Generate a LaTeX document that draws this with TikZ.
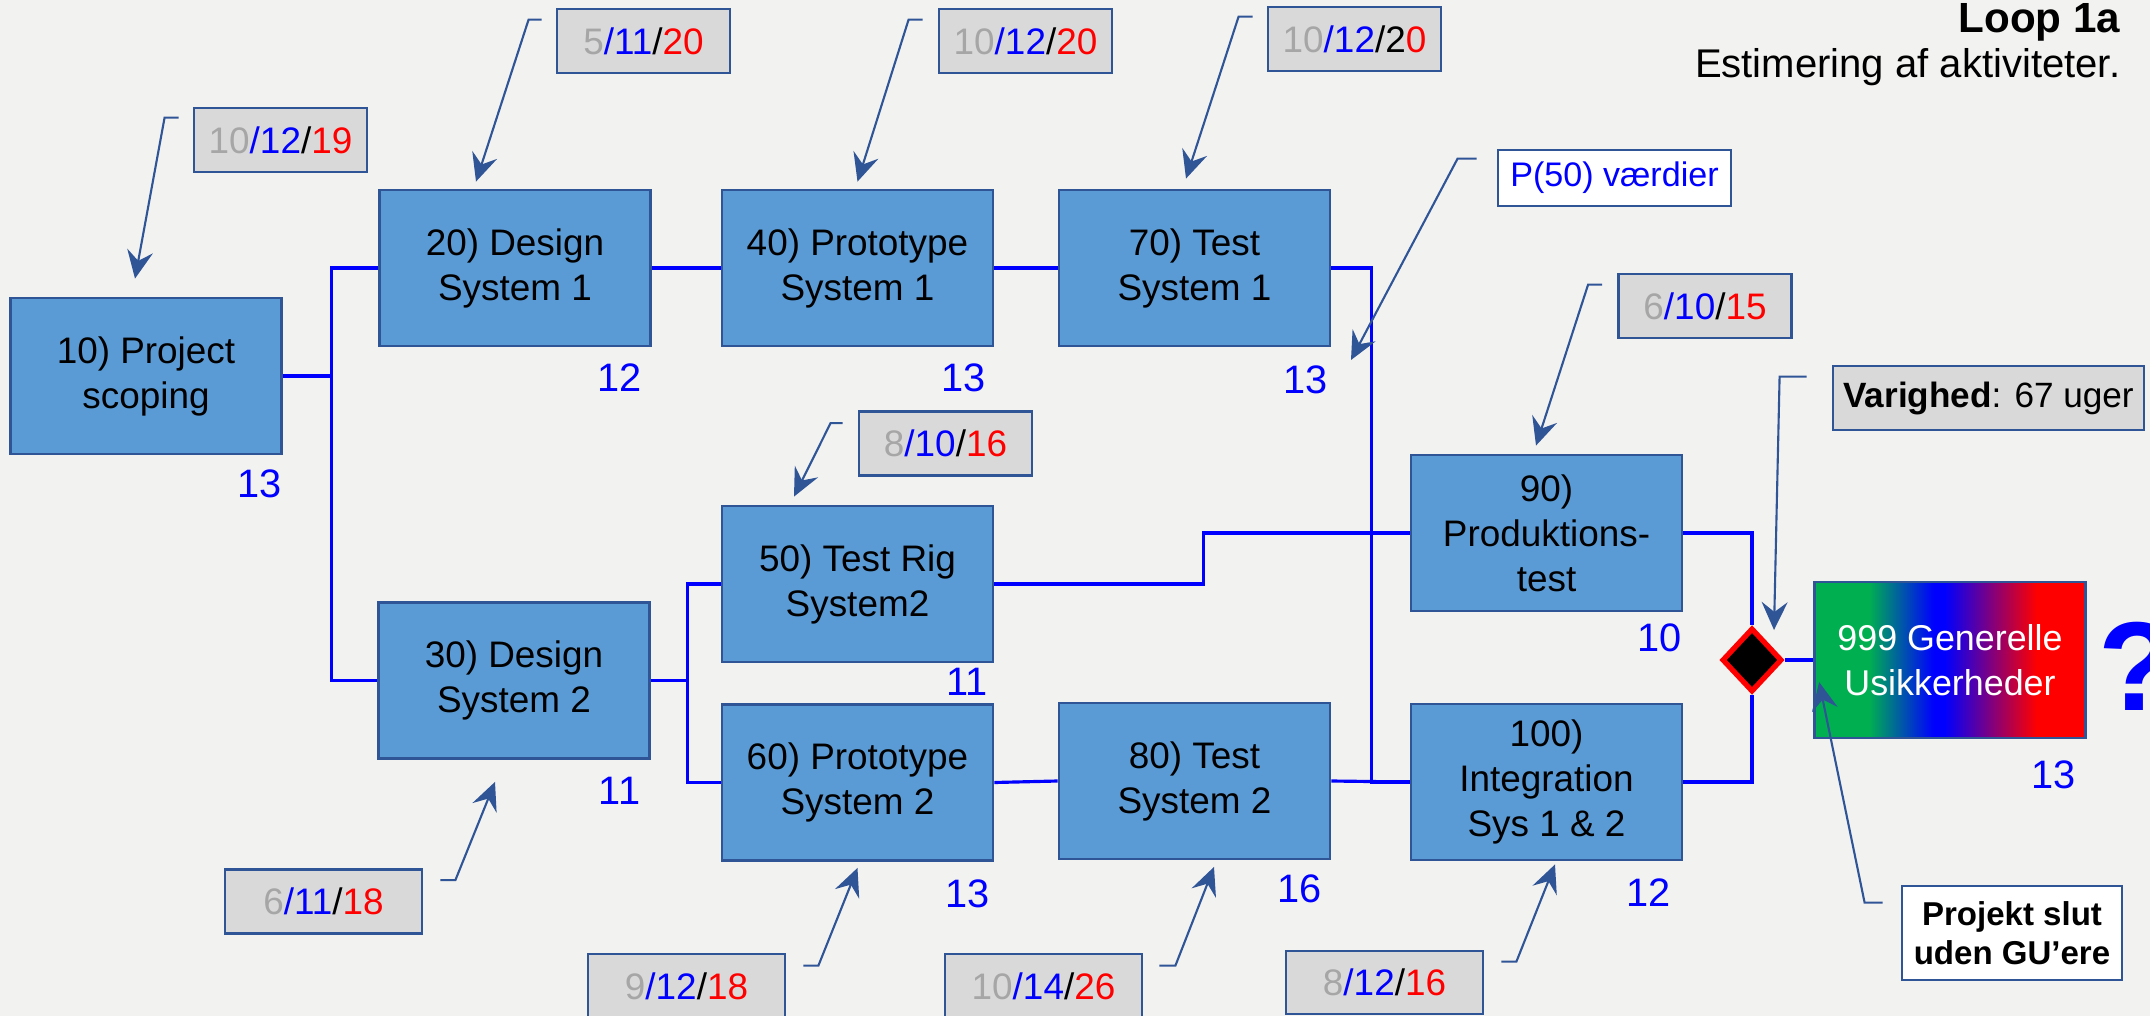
\documentclass[tikz,border=0pt]{standalone}
\usepackage{fontspec}
\setmainfont{Liberation Sans}
\usetikzlibrary{arrows.meta,shapes.geometric}

\definecolor{pagegray}{RGB}{242,242,240}
\definecolor{taskblue}{RGB}{91,155,213}
\definecolor{rimblue}{RGB}{47,85,151}
\definecolor{calloutgray}{RGB}{217,217,217}
\definecolor{optgray}{RGB}{166,166,166}
\definecolor{gugreen}{RGB}{0,176,80}

\pgfdeclarehorizontalshading{guband}{100bp}{color(0bp)=(gugreen); color(35bp)=(gugreen); color(47bp)=(blue); color(49bp)=(blue); color(66bp)=(red); color(100bp)=(red)}

\newcommand{\pert}[3]{\textcolor{optgray}{#1}\textcolor{blue}{/#2}/\textcolor{red}{#3}}

\tikzset{
  task/.style={draw=rimblue, fill=taskblue, line width=0.8pt, minimum width=2.71cm, minimum height=1.56cm, align=center, inner sep=2pt, font=\fontsize{10.5}{12.8}\selectfont},
  estbox/.style={draw=rimblue, fill=calloutgray, line width=0.8pt, minimum width=1.73cm, minimum height=0.64cm, inner sep=1pt, font=\fontsize{10.5}{12}\selectfont},
  notebox/.style={draw=rimblue, fill=white, line width=0.8pt, align=center, inner sep=1pt},
  link/.style={blue, line width=0.9pt},
  leader/.style={rimblue, line width=0.6pt, -{Stealth[length=2.8mm,width=2.6mm,inset=1mm]}},
  weeks/.style={blue, anchor=north east, inner sep=0pt, font=\fontsize{11.3}{13}\selectfont}
}

\begin{document}
\begin{tikzpicture}
  \fill[pagegray] (0,0) rectangle (21.5,-10.16);
  \useasboundingbox (0,0) rectangle (21.5,-10.16);

  \node[anchor=base east, inner sep=0pt, font=\bfseries\fontsize{12}{14}\selectfont] (ttl) at (21.21,-0.32) {Loop 1a};
  \node[anchor=base east, inner sep=0pt, font=\fontsize{11.4}{14}\selectfont] (sub) at (21.21,-0.77) {Estimering af aktiviteter.};

  \node[task] (p10) at (1.46,-3.76) {10) Project\\scoping};
  \node[task] (p20) at (5.15,-2.68) {20) Design\\System 1};
  \node[task] (p40) at (8.575,-2.68) {40) Prototype\\System 1};
  \node[task] (p70) at (11.945,-2.68) {70) Test\\System 1};
  \node[task] (p30) at (5.14,-6.805) {30) Design\\System 2};
  \node[task] (p50) at (8.575,-5.84) {50) Test Rig\\System2};
  \node[task] (p60) at (8.575,-7.825) {60) Prototype\\System 2};
  \node[task] (p80) at (11.945,-7.81) {80) Test\\System 2};
  \node[task] (p90) at (15.465,-5.33) {90)\\Produktions-\\test};
  \node[task] (p100) at (15.465,-7.82) {100)\\Integration\\Sys 1 \& 2};
  \node[diamond, draw=red, fill=black, line width=1.5pt, minimum width=0.6cm, minimum height=0.64cm, inner sep=0pt] (gate) at (17.52,-6.60) {};
  \node[task, shade, shading=guband, text=white, font=\fontsize{10.2}{12.8}\selectfont] (p999) at (19.50,-6.60) {999 Generelle\\Usikkerheder};
  \node[anchor=west, inner sep=0pt, text=blue, font=\bfseries\fontsize{36}{40}\selectfont] (ask) at (20.98,-6.66) {?};

  \node[weeks] (w10) at ([shift={(-0.01,-0.14)}]p10.south east) {13};
  \node[weeks] (w20) at ([shift={(-0.10,-0.16)}]p20.south east) {12};
  \node[weeks] (w40) at ([shift={(-0.08,-0.16)}]p40.south east) {13};
  \node[weeks] (w70) at ([shift={(-0.03,-0.18)}]p70.south east) {13};
  \node[weeks] (w30) at ([shift={(-0.10,-0.17)}]p30.south east) {11};
  \node[weeks] (w50) at ([shift={(-0.06,-0.04)}]p50.south east) {11};
  \node[weeks] (w60) at ([shift={(-0.04,-0.17)}]p60.south east) {13};
  \node[weeks] (w80) at ([shift={(-0.09,-0.135)}]p80.south east) {16};
  \node[weeks] (w90) at ([shift={(-0.01,-0.11)}]p90.south east) {10};
  \node[weeks] (w100) at ([shift={(-0.12,-0.17)}]p100.south east) {12};
  \node[weeks] (w999) at ([shift={(-0.11,-0.21)}]p999.south east) {13};

  \draw[link] (p10.east) -- ++(0.49,0) |- (p20.west);
  \draw[link] (p10.east) -- ++(0.49,0) |- (p30.west);
  \draw[link] (p20.east) -- (p40.west);
  \draw[link] (p40.east) -- (p70.west);
  \draw[link] (p70.east) -- ++(0.40,0) |- (p100.west);
  \draw[link] (p30.east) -- ++(0.37,0) |- (p50.west);
  \draw[link] (p30.east) -- ++(0.37,0) |- (p60.west);
  \draw[link] (p50.east) -- ++(2.09,0) |- (p90.west);
  \draw[link] (p60.east) -- (p80.west);
  \draw[link] (p80.east) -- (p100.west);
  \draw[link] (p90.east) -| (gate.north);
  \draw[link] (p100.east) -| (gate.south);
  \draw[link] (gate.east) -- (p999.west);

  \node[estbox] (c10) at (2.805,-1.40) {\pert{10}{12}{19}};
  \node[estbox] (c20) at (6.435,-0.41) {\pert{5}{11}{20}};
  \node[estbox] (c40) at (10.255,-0.41) {\pert{10}{12}{20}};
  \node[estbox] (c70) at (13.545,-0.39) {\textcolor{optgray}{10}\textcolor{blue}{/12}/2\textcolor{red}{0}};
  \node[estbox] (c50) at (9.455,-4.435) {\pert{8}{10}{16}};
  \node[estbox] (c90) at (17.05,-3.06) {\pert{6}{10}{15}};
  \node[estbox, minimum width=1.97cm] (c30) at (3.235,-9.015) {\pert{6}{11}{18}};
  \node[estbox, minimum width=1.97cm] (c60) at (6.865,-9.86) {\pert{9}{12}{18}};
  \node[estbox, minimum width=1.97cm] (c80) at (10.435,-9.86) {\pert{10}{14}{26}};
  \node[estbox, minimum width=1.97cm, minimum height=0.63cm] (c100) at (13.845,-9.825) {\pert{8}{12}{16}};
  \node[notebox, text=blue, minimum width=2.33cm, minimum height=0.56cm, font=\fontsize{9.7}{12}\selectfont] (pval) at (16.145,-1.78) {P(50) værdier};
  \node[estbox, minimum width=3.11cm, font=\fontsize{10}{12}\selectfont] (span) at (19.885,-3.98) {\textbf{Varighed}: 67 uger};
  \node[notebox, minimum width=2.20cm, minimum height=0.94cm, font=\bfseries\fontsize{9.4}{11}\selectfont] (endnote) at (20.12,-9.33) {Projekt slut\\uden GU’ere};

  \coordinate (pvaltip) at (13.51,-3.60);

  \draw[leader] ([shift={(-0.14,-0.11)}]c10.north west) -- ++(-0.14,0) -- ([shift={(-0.11,0.18)}]p10.north);
  \draw[leader] ([shift={(-0.14,-0.12)}]c20.north west) -- ++(-0.13,0) -- ([shift={(-0.39,0.07)}]p20.north);
  \draw[leader] ([shift={(-0.15,-0.12)}]c40.north west) -- ++(-0.14,0) -- ([shift={(0,0.07)}]p40.north);
  \draw[leader] ([shift={(-0.14,-0.11)}]c70.north west) -- ++(-0.14,0) -- ([shift={(-0.085,0.10)}]p70.north);
  \draw[leader] ([shift={(-0.15,-0.13)}]c50.north west) -- ++(-0.12,0) -- ([shift={(-0.635,0.08)}]p50.north);
  \draw[leader] ([shift={(-0.15,-0.12)}]c90.north west) -- ++(-0.14,0) -- ([shift={(-0.105,0.08)}]p90.north);
  \draw[leader] ([shift={(-0.20,-0.10)}]pval.north west) -- ++(-0.19,0) -- (pvaltip);
  \draw[leader] ([shift={(-0.25,-0.12)}]span.north west) -- ++(-0.27,0) -- ([shift={(0.22,0.30)}]gate.center);
  \draw[leader] ([shift={(0.17,-0.12)}]c30.north east) -- ++(0.15,0) -- ([shift={(-0.19,-0.22)}]p30.south);
  \draw[leader] ([shift={(0.17,-0.13)}]c60.north east) -- ++(0.15,0) -- ([shift={(0,-0.06)}]p60.south);
  \draw[leader] ([shift={(0.16,-0.13)}]c80.north east) -- ++(0.16,0) -- ([shift={(0.195,-0.065)}]p80.south);
  \draw[leader] ([shift={(0.17,-0.12)}]c100.north east) -- ++(0.15,0) -- ([shift={(0.085,-0.03)}]p100.south);
  \draw[leader] ([shift={(-0.18,-0.18)}]endnote.north west) -- ++(-0.18,0) -- ([shift={(0.06,-0.22)}]p999.west);
\end{tikzpicture}
\end{document}
